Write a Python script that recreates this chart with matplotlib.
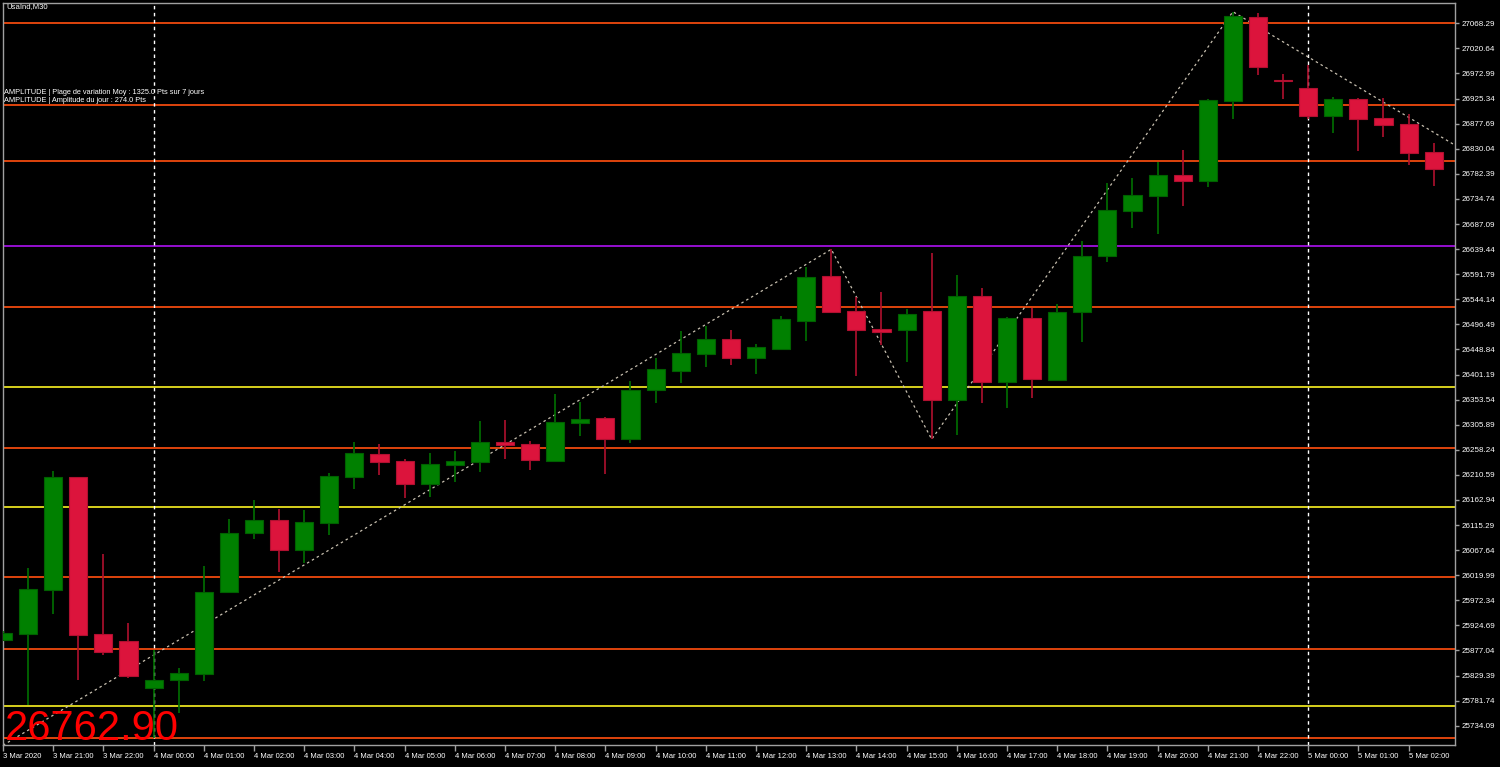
import matplotlib
matplotlib.use("Agg")
import matplotlib.pyplot as plt

# UsaInd M30 candles (3 Mar 2020 20:00 -> 5 Mar 2020 04:30)
opens = [25896.9, 25907.8, 25992.5, 26206.0, 25908.3, 25894.5, 25805.2, 25820.9, 25831.8, 25988.7,
         26100.2, 26124.9, 26067.3, 26119.2, 26207.1, 26250.2, 26236.9, 26192.7, 26229.9, 26235.0,
         26273.0, 26269.2, 26236.9, 26309.7, 26318.6, 26278.7, 26371.2, 26408.5, 26440.8, 26468.7,
         26433.2, 26449.7, 26503.4, 26588.3, 26522.4, 26487.1, 26485.8, 26521.9, 26352.8, 26550.9,
         26387.0, 26508.0, 26391.7, 26520.5, 26625.8, 26712.4, 26740.9, 26780.2, 26769.4, 26921.3,
         27080.3, 26960.6, 26945.4, 26892.8, 26924.0, 26888.5, 26877.1, 26823.9]
highs = [25914.0, 26034.3, 26217.9, 26207.1, 26060.3, 25929.2, 25877.9, 25843.7, 26037.5, 26126.8,
         26162.9, 26145.8, 26143.9, 26214.1, 26273.6, 26269.2, 26240.7, 26252.1, 26255.9, 26312.9,
         26314.8, 26275.5, 26363.6, 26349.0, 26321.1, 26388.9, 26433.5, 26483.9, 26493.4, 26485.8,
         26458.6, 26512.4, 26605.4, 26639.0, 26549.0, 26558.5, 26525.6, 26631.5, 26590.2, 26565.0,
         26509.9, 26527.6, 26535.2, 26654.3, 26764.4, 26773.9, 26805.5, 26827.7, 26924.6, 27090.4,
         27087.3, 26972.0, 26989.1, 26927.8, 26927.0, 26927.0, 26896.1, 26841.5]
lows = [25895.0, 25773.5, 25946.3, 25820.9, 25868.4, 25824.7, 25710.8, 25758.8, 25819.0, 25985.6,
        26088.8, 26026.1, 26043.2, 26096.4, 26183.7, 26210.3, 26166.7, 26169.1, 26197.6, 26216.0,
        26241.3, 26219.8, 26235.0, 26284.4, 26212.8, 26271.7, 26347.7, 26385.7, 26416.1, 26419.9,
        26402.2, 26447.8, 26464.9, 26519.0, 26399.0, 26457.3, 26425.0, 26278.2, 26286.3, 26347.7,
        26338.2, 26356.6, 26388.9, 26463.5, 26615.5, 26680.1, 26667.6, 26721.3, 26758.0, 26886.6,
        26970.1, 26924.0, 26886.0, 26859.4, 26826.4, 26852.4, 26799.2, 26759.3]
closes = [25910.8, 25993.8, 26207.1, 25906.4, 25874.7, 25829.1, 25820.9, 25833.7, 25988.1, 26099.6,
          26124.9, 26067.3, 26120.5, 26208.4, 26251.6, 26235.6, 26192.7, 26231.2, 26236.9, 26273.0,
          26267.9, 26238.3, 26311.0, 26316.7, 26278.7, 26371.8, 26411.1, 26442.1, 26468.1, 26433.2,
          26452.9, 26506.7, 26586.4, 26520.5, 26485.8, 26481.4, 26516.7, 26352.8, 26549.8, 26387.0,
          26508.0, 26393.3, 26520.0, 26626.9, 26713.7, 26741.6, 26780.2, 26769.4, 26922.7, 27082.2,
          26985.9, 26958.7, 26892.8, 26924.0, 26886.6, 26875.7, 26822.0, 26792.2]

# horizontal levels (price, colour kind)
levels = [27068.3, 26913.7, 26807.3, 26645.0, 26530.0, 26376.9, 26262.2, 26149.5, 26016.0, 25879.8, 25772.1, 25711.3]
level_kind = ["o", "o", "o", "p", "o", "y", "o", "y", "o", "o", "y", "o"]

# zigzag pivots (candle index, price)
zz_idx = [0, 33, 37, 49, 60]
zz_price = [25697.0, 26639.0, 26278.2, 27090.4, 26775.2]

day_sep_idx = [6, 52]

y_ticks = [27068.29, 27020.64, 26972.99, 26925.34, 26877.69, 26830.04, 26782.39, 26734.74, 26687.09,
           26639.44, 26591.79, 26544.14, 26496.49, 26448.84, 26401.19, 26353.54, 26305.89, 26258.24,
           26210.59, 26162.94, 26115.29, 26067.64, 26019.99, 25972.34, 25924.69, 25877.04, 25829.39,
           25781.74, 25734.09]

x_tick_idx = [0, 2, 4] + list(range(6, 57, 2))
x_tick_labels = ["3 Mar 2020", "3 Mar 21:00", "3 Mar 22:00"] + \
                ["4 Mar %02d:00" % h for h in range(0, 23)] + \
                ["5 Mar 00:00", "5 Mar 01:00", "5 Mar 02:00"]

last_price = "26762.90"

GREEN = "#008000"
RED = "#DC143C"
level_colors = {"o": "#F04A0E", "y": "#E8E020", "p": "#A010E0"}
FONT = "Liberation Sans"

W, H = 1500, 767
fig = plt.figure(figsize=(W / 100, H / 100), dpi=100, facecolor="black")
ax = fig.add_axes([3 / W, 22 / H, 1452 / W, 742 / H])
ax.set_facecolor("black")

for p, kind in zip(levels, level_kind):
    ax.axhline(p, color=level_colors[kind], lw=1.3, zorder=1)

for i in day_sep_idx:
    ax.axvline(i, color="white", lw=1, ls=(0, (2.5, 2.5)), zorder=1)

ax.plot(zz_idx, zz_price, color="#C8C0B0", lw=0.9, ls=(0, (2, 2.5)), zorder=2)

for i, (o, h, l, c) in enumerate(zip(opens, highs, lows, closes)):
    up = c >= o
    body_col = GREEN if up else RED
    wick_col = "#007000" if up else "#B0102E"
    ax.vlines(i, l, h, color=wick_col, lw=1.2, zorder=3)
    bottom = min(o, c)
    height = max(abs(c - o), 2.0)
    ax.bar(i, height, bottom=bottom, width=0.72, color=body_col,
           edgecolor="#006000" if up else "#B01030", linewidth=0.8, zorder=4)

ax.set_xlim(0, 57.85)
ax.set_ylim(25697.5, 27106.9)

for s in ax.spines.values():
    s.set_color("#A0A0A0")
    s.set_linewidth(1)

ax.yaxis.tick_right()
ax.set_yticks(y_ticks)
ax.set_yticklabels(["%.2f" % v for v in y_ticks])
ax.tick_params(axis="y", colors="#A0A0A0", labelcolor="white", direction="out",
               length=3, width=1, pad=1.5, labelsize=5.8)
ax.set_xticks(x_tick_idx)
ax.set_xticklabels(x_tick_labels)
ax.tick_params(axis="x", colors="#A0A0A0", labelcolor="white", direction="out",
               length=4, width=1, pad=1.5, labelsize=5.5)
for lbl in ax.get_xticklabels() + ax.get_yticklabels():
    lbl.set_fontfamily(FONT)
for lbl in ax.get_xticklabels():
    lbl.set_ha("left")

fig.text(6 / W, 1 - 7 / H, "UsaInd,M30", color="white", fontsize=5.6, family=FONT, va="center")
fig.text(4 / W, 1 - 92 / H, "AMPLITUDE | Plage de variation Moy : 1325.0 Pts sur 7 jours",
         color="white", fontsize=5.35, family=FONT, va="center")
fig.text(4 / W, 1 - 101 / H, "AMPLITUDE | Amplitude du jour : 274.0 Pts",
         color="white", fontsize=5.35, family=FONT, va="center")
fig.text(5 / W, 1 - 740 / H, last_price, color="red", fontsize=30, family=FONT, va="baseline")

fig.savefig("out.png", dpi=100, facecolor="black")
